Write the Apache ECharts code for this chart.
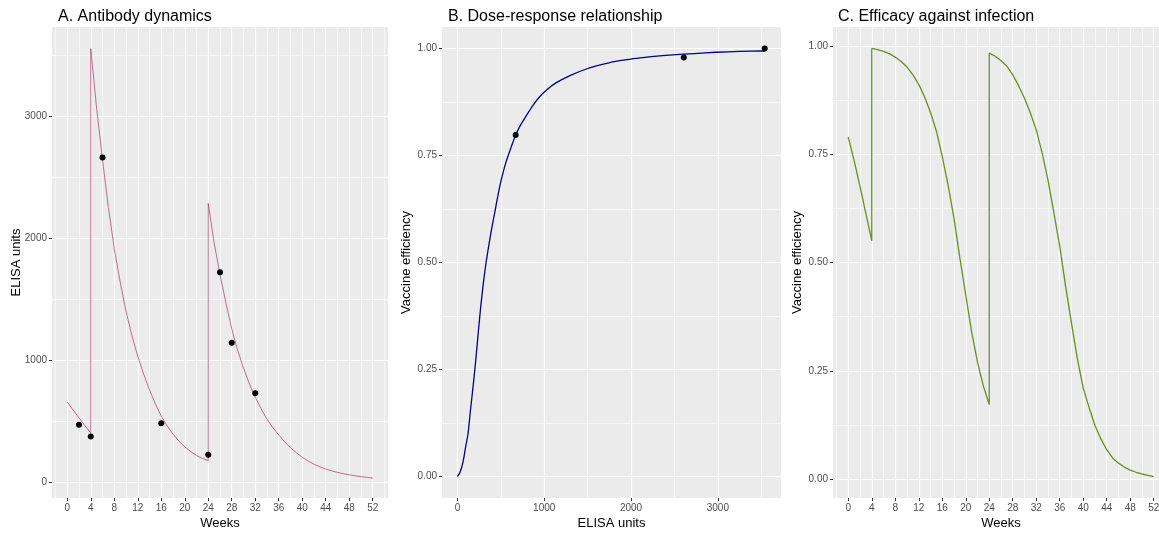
<!DOCTYPE html>
<html><head><meta charset="utf-8">
<script src="https://cdn.jsdelivr.net/npm/echarts@6/dist/echarts.min.js"></script>
<style>html,body{margin:0;padding:0;background:#fff}#c{width:1159px;height:533px}</style>
</head><body><div id="c"></div>
<script>
// ---- Panel A: antibody dynamics (ELISA units by week) ----
const antibodyWeeks = [0,1,2,3,4,
  4,5,6,7,8,9,10,11,12,13,14,15,16,17,18,19,20,21,22,23,24,
  24,25,26,27,28,29,30,31,32,33,34,35,36,37,38,39,40,41,42,43,44,45,46,47,48,49,50,51,52];
const antibodyElisa = [655,590,525,462,400,
  3551,3060,2640,2250,1910,1640,1400,1200,1030,885,755,640,540,460,392,335,288,250,218,193,175,
  2283,1960,1700,1470,1255,1080,935,805,695,600,515,445,385,330,280,240,203,172,146,124,106,91,79,68,59,51,44,38,33];
const obsWeeks = [2,4,6,16,24,26,28,32];
const obsElisa = [469,373,2659,482,223,1718,1142,728];

// ---- Panel B: dose-response ----
const doseElisa = [0,30,65,95,122,150,180,210,237,265,295,330,372,400,429,465,506,560,620,671,730,794,870,947,1040,1139,1290,1446,1600,1757,1930,2102,2300,2481,2730,2980,3250,3538];
const doseEff = [0,0.01,0.035,0.07,0.1,0.155,0.21,0.27,0.33,0.39,0.446,0.5,0.553,0.585,0.616,0.655,0.694,0.735,0.77,0.798,0.822,0.843,0.867,0.887,0.905,0.92,0.936,0.949,0.959,0.967,0.973,0.978,0.982,0.985,0.988,0.991,0.993,0.994];
const dosePtsElisa = [671,2608,3540];
const dosePtsEff = [0.798,0.979,1.0];

// ---- Panel C: efficacy against infection ----
const effWeeks = antibodyWeeks;
const effValues = [0.789,0.735,0.675,0.613,0.550,
  0.994,0.991,0.987,0.982,0.974,0.964,0.951,0.933,0.911,0.882,0.846,0.803,0.745,0.678,0.602,0.510,0.425,0.340,0.270,0.215,0.172,
  0.983,0.976,0.966,0.953,0.933,0.908,0.879,0.845,0.806,0.753,0.690,0.615,0.538,0.445,0.360,0.278,0.210,0.165,0.124,0.093,0.068,0.049,0.037,0.028,0.021,0.016,0.012,0.009,0.006];

// ---- tick labels ----
const weekTicks = [0,4,8,12,16,20,24,28,32,36,40,44,48,52];
const weekMinor = [-2,2,6,10,14,18,22,26,30,34,38,42,46,50,54];
const elisaTicks = [0,1000,2000,3000];
const elisaMinor = [500,1500,2500,3500];
const effTicks = [0,0.25,0.5,0.75,1];
const effMinor = [0.125,0.375,0.625,0.875];

const titles = ['A. Antibody dynamics','B. Dose-response relationship','C. Efficacy against infection'];

const FONT = '"Liberation Sans", Arial, sans-serif';
const pair = (xs, ys) => xs.map((x, i) => [x, ys[i]]);

function majorAxis(grid, min, max, ticks, name, fmt, nameGap) {
  return {
    type: 'value', gridIndex: grid, min: min, max: max,
    axisLine: {show: false, onZero: false},
    axisTick: {show: true, length: 3, lineStyle: {color: '#333', width: 1}, customValues: ticks},
    axisLabel: {customValues: ticks, color: '#4D4D4D', fontSize: 10, fontFamily: FONT, margin: 5,
      formatter: fmt},
    splitLine: {show: true, lineStyle: {color: '#fff', width: 1.2}},
    name: name, nameLocation: 'middle', nameGap: nameGap, nameMoveOverlap: false,
    nameTextStyle: {color: '#000', fontSize: 13, fontFamily: FONT}
  };
}
function minorAxis(grid, min, max, ticks) {
  return {
    type: 'value', gridIndex: grid, min: min, max: max,
    axisLine: {show: false, onZero: false},
    axisTick: {show: false, customValues: ticks},
    axisLabel: {show: false},
    splitLine: {show: true, lineStyle: {color: '#fff', width: 0.6}}
  };
}
const f0 = v => String(Math.round(v));
const f2 = v => Number(v).toFixed(2);

const grids = [
  {left: 52, top: 27, width: 336, height: 471},
  {left: 442, top: 27, width: 339, height: 471},
  {left: 833, top: 27, width: 336, height: 471}
].map(g => Object.assign(g, {show: true, backgroundColor: '#EBEBEB', borderWidth: 0, containLabel: false, outerBoundsMode: 'none'}));

const option = {
  animation: false,
  backgroundColor: '#fff',
  textStyle: {fontFamily: FONT},
  title: titles.map((t, i) => ({text: t, left: [53, 443, 833][i], top: 4,
    textStyle: {fontSize: 16, fontWeight: 'normal', color: '#000', fontFamily: FONT}})),
  grid: grids,
  xAxis: [
    majorAxis(0, -2.6, 54.6, weekTicks, 'Weeks', f0, 19),
    minorAxis(0, -2.6, 54.6, weekMinor),
    majorAxis(1, -178, 3728, elisaTicks, 'ELISA units', f0, 19),
    minorAxis(1, -178, 3728, elisaMinor),
    majorAxis(2, -2.6, 54.6, weekTicks, 'Weeks', f0, 19),
    minorAxis(2, -2.6, 54.6, weekMinor)
  ],
  yAxis: [
    majorAxis(0, -131, 3728, elisaTicks, 'ELISA units', f0, 29),
    minorAxis(0, -131, 3728, elisaMinor),
    majorAxis(1, -0.05, 1.05, effTicks, 'Vaccine efficiency', f2, 29),
    minorAxis(1, -0.05, 1.05, effMinor),
    majorAxis(2, -0.0434, 1.0434, effTicks, 'Vaccine efficiency', f2, 29),
    minorAxis(2, -0.0434, 1.0434, effMinor)
  ],
  series: [
    {type: 'line', xAxisIndex: 0, yAxisIndex: 0, data: pair(antibodyWeeks, antibodyElisa),
      showSymbol: false, lineStyle: {color: '#A02F62', width: 0.9, opacity: 0.75}, z: 3},
    {type: 'scatter', xAxisIndex: 0, yAxisIndex: 0, data: pair(obsWeeks, obsElisa),
      symbolSize: 6, itemStyle: {color: '#000', opacity: 1}, z: 4},
    {type: 'line', xAxisIndex: 2, yAxisIndex: 2, data: pair(doseElisa, doseEff),
      showSymbol: false, smooth: 0.25, lineStyle: {color: '#00008B', width: 1.3}, z: 3},
    {type: 'scatter', xAxisIndex: 2, yAxisIndex: 2, data: pair(dosePtsElisa, dosePtsEff),
      symbolSize: 6, itemStyle: {color: '#000', opacity: 1}, z: 4},
    {type: 'line', xAxisIndex: 4, yAxisIndex: 4, data: pair(effWeeks, effValues),
      showSymbol: false, lineStyle: {color: '#6B8E23', width: 1.3}, z: 3}
  ]
};
echarts.init(document.getElementById('c'), null, {renderer: 'canvas'}).setOption(option);
</script></body></html>
